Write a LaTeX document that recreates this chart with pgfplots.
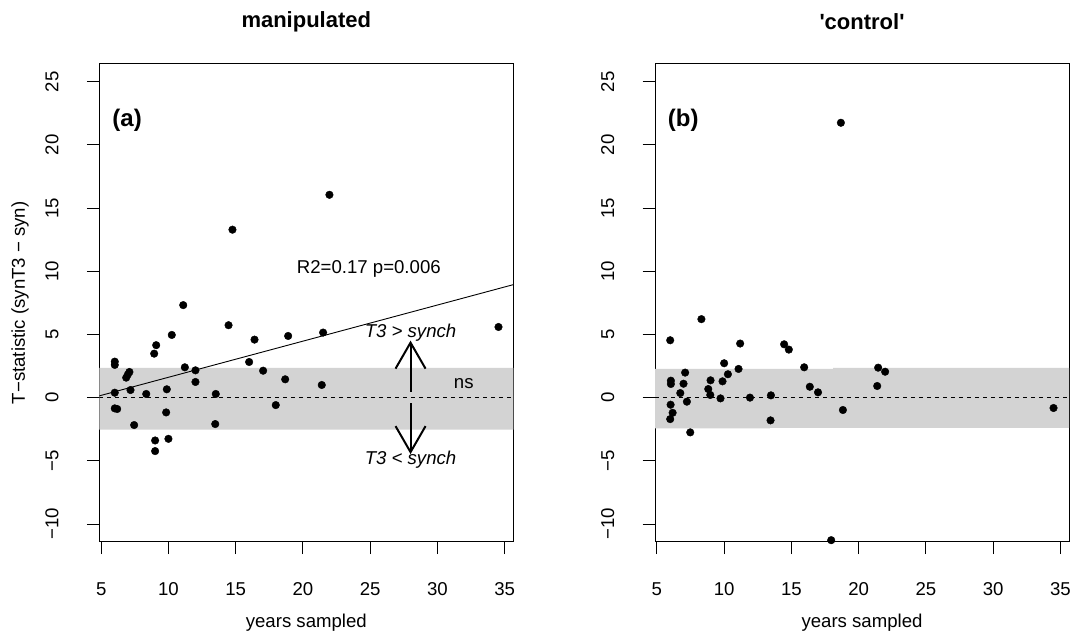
\documentclass[border=0pt]{standalone}
\usepackage{pgfplots}
\pgfplotsset{compat=1.18}
\usepackage{fontspec}
\setmainfont{Liberation Sans}
\usetikzlibrary{arrows.meta}
\newcommand\fs{\fontsize{18.6bp}{22bp}\selectfont}
\definecolor{bandgray}{RGB}{211,211,211}
\pgfplotsset{
  rpanel/.style={
    scale only axis, width=414bp, height=477.7bp,
    xmin=4.86, xmax=35.64, ymin=-11.4, ymax=26.4,
    axis line style={line width=1bp, black},
    tick align=outside, major tick length=12.3bp,
    tick pos=left,
    every tick/.style={line width=1bp, black},
    xtick={5,10,15,20,25,30,35},
    xticklabels={5,10,15,20,25,30,35},
    ytick={-10,-5,0,5,10,15,20,25},
    yticklabels={−10,−5,0,5,10,15,20,25},
    xticklabel style={font=\fs, anchor=center, yshift=-35bp},
    yticklabel style={font=\fs, xshift=-35bp, rotate=90, anchor=center},
    title style={font=\bfseries\fontsize{22bp}{26bp}\selectfont, at={(axis description cs:0.5,1)}, anchor=center, yshift=36bp},
    xlabel style={font=\fs, at={(axis description cs:0.5,0)}, anchor=center, yshift=-81bp},
    ylabel style={font=\fs, at={(axis description cs:-0.1915,0.5)}, anchor=center},
    clip=true,
  }
}
\begin{document}
\begin{tikzpicture}
\useasboundingbox (0,0) rectangle (1075bp,639bp);
% ---------- panel (a)
\begin{axis}[rpanel, at={(99.3bp,97.3bp)}, anchor=south west,
  title={manipulated}, xlabel={years sampled}, ylabel={T−statistic (synT3 − syn)}]
\addplot[fill=bandgray, draw=none] coordinates {(4.86,-2.54) (35.64,-2.54) (35.64,2.35) (4.86,2.35)} \closedcycle;
\addplot[black, line width=1bp, dash pattern=on 4bp off 4bp] coordinates {(4.86,0) (35.64,0)};
\addplot[black, line width=0.9bp] coordinates {(4.86,0.14) (35.64,8.94)};
\addplot[only marks, mark=*, mark size=3.8bp, black] coordinates {
(11.10,7.32) (14.47,5.73) (10.25,4.96) (18.90,4.88) (21.50,5.15) (16.40,4.59)
(9.09,4.15) (8.94,3.48) (6.01,2.85) (6.01,2.59) (16.0,2.82) (11.22,2.40)
(12.01,2.16) (17.04,2.13) (7.10,2.03) (6.98,1.82) (6.86,1.58) (18.68,1.45)
(12.01,1.24) (21.40,1.0) (6.01,0.39) (7.18,0.60) (9.88,0.66) (8.35,0.29)
(13.52,0.29) (6.01,-0.85) (6.19,-0.90) (17.98,-0.59) (9.83,-1.17) (7.45,-2.17)
(13.48,-2.09) (10.0,-3.26) (9.01,-3.39) (9.01,-4.23) (14.76,13.29) (21.97,16.05)
(34.54,5.59)};
\draw[line width=2bp, -{Straight Barb[length=26bp,width=30bp]}] (axis cs:28,0.47) -- (axis cs:28,4.51);
\draw[line width=2bp, -{Straight Barb[length=26bp,width=30bp]}] (axis cs:28,-0.45) -- (axis cs:28,-4.47);
\node[font=\fs] at (axis cs:24.9,10.17) {R2=0.17 p=0.006};
\node[font=\fs\itshape] at (axis cs:28,5.15) {T3 > synch};
\node[font=\fs\itshape] at (axis cs:28,-4.9) {T3 < synch};
\node[font=\fs] at (axis cs:31.96,1.08) {ns};
\node[font=\bfseries\fontsize{24bp}{28bp}\selectfont] at (axis cs:6.93,21.93) {(a)};
\end{axis}
% ---------- panel (b)
\begin{axis}[rpanel, at={(655bp,97.3bp)}, anchor=south west,
  title={\textquotesingle control\textquotesingle}, xlabel={years sampled}]
\addplot[fill=bandgray, draw=none] coordinates {(4.86,-2.43) (13.4,-2.43) (13.4,-2.39) (35.64,-2.39) (35.64,2.35) (18.1,2.35) (18.1,2.27) (4.86,2.27)} \closedcycle;
\addplot[black, line width=1bp, dash pattern=on 4bp off 4bp] coordinates {(4.86,0) (35.64,0)};
\addplot[only marks, mark=*, mark size=3.8bp, black] coordinates {
(18.68,21.75) (14.46,4.22) (14.81,3.80) (15.95,2.40) (21.45,2.37) (21.97,2.05)
(16.37,0.86) (16.98,0.42) (21.38,0.92) (18.83,-0.98) (34.49,-0.82) (8.31,6.21)
(5.99,4.54) (11.19,4.28) (10.0,2.72) (7.1,1.98) (11.07,2.27) (10.28,1.85)
(6.04,1.34) (6.04,1.08) (6.98,1.10) (8.99,1.37) (9.88,1.29) (6.74,0.36)
(8.82,0.68) (8.97,0.21) (9.73,-0.06) (11.92,0.0) (13.48,0.18) (7.23,-0.32)
(6.02,-0.56) (6.17,-1.2) (5.99,-1.70) (13.45,-1.80) (7.48,-2.75) (17.96,-11.28)};
\node[font=\bfseries\fontsize{24bp}{28bp}\selectfont] at (axis cs:6.96,21.93) {(b)};
\end{axis}
\end{tikzpicture}
\end{document}
